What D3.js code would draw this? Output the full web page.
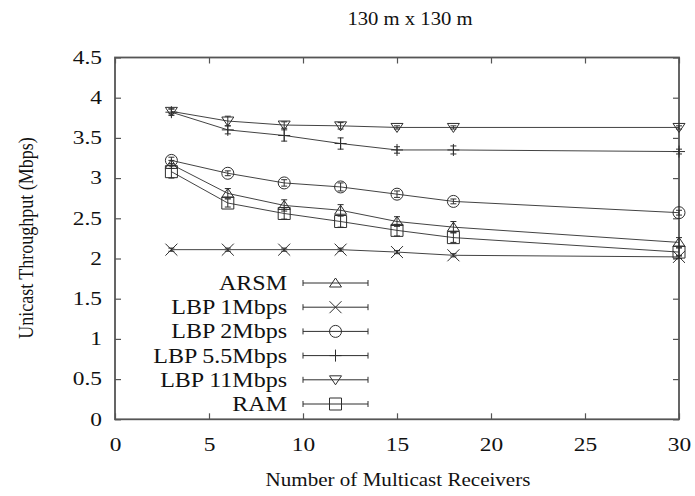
<!DOCTYPE html>
<html>
<head>
<meta charset="utf-8">
<script src="https://cdn.jsdelivr.net/npm/d3@7"></script>
<style>
  body { margin: 0; background: #fff; }
  text { font-family: "Liberation Serif", "Times New Roman", serif; fill: #111; }
</style>
</head>
<body>
<div id="chart"></div>
<script>
// data
var receivers = [3, 6, 9, 12, 15, 18, 30];
var arsm  = [3.17, 2.81, 2.66, 2.60, 2.46, 2.39, 2.20];
var lbp1  = [2.11, 2.11, 2.11, 2.11, 2.08, 2.04, 2.02];
var lbp2  = [3.22, 3.06, 2.94, 2.89, 2.80, 2.71, 2.57];
var lbp55 = [3.82, 3.60, 3.53, 3.43, 3.35, 3.35, 3.33];
var lbp11 = [3.83, 3.71, 3.66, 3.65, 3.63, 3.63, 3.63];
var ram   = [3.08, 2.69, 2.56, 2.46, 2.35, 2.26, 2.08];
// error bar half heights
var arsmErr  = [0.05, 0.06, 0.07, 0.07, 0.06, 0.07, 0.06];
var lbp1Err  = [0.02, 0.02, 0.02, 0.02, 0.02, 0.02, 0.02];
var lbp2Err  = [0.04, 0.03, 0.04, 0.05, 0.04, 0.03, 0.03];
var lbp55Err = [0.04, 0.05, 0.07, 0.07, 0.04, 0.05, 0.03];
var lbp11Err = [0.03, 0.06, 0.04, 0.04, 0.02, 0.02, 0.02];
var ramErr   = [0.08, 0.05, 0.07, 0.07, 0.07, 0.06, 0.05];

var seriesNames = ["ARSM", "LBP 1Mbps", "LBP 2Mbps", "LBP 5.5Mbps", "LBP 11Mbps", "RAM"];
var seriesMarkers = ["triUp", "times", "circle", "plus", "triDown", "square"];

var xTicks = [0, 5, 10, 15, 20, 25, 30];
var yTicks = [0, 0.5, 1, 1.5, 2, 2.5, 3, 3.5, 4, 4.5];
var yTickLabels = ["0", "0.5", "1", "1.5", "2", "2.5", "3", "3.5", "4", "4.5"];

var title = "130 m x 130 m";
var xTitle = "Number of Multicast Receivers";
var yTitle = "Unicast Throughput (Mbps)";

// build series table
var allValues = [arsm, lbp1, lbp2, lbp55, lbp11, ram];
var allErrs = [arsmErr, lbp1Err, lbp2Err, lbp55Err, lbp11Err, ramErr];
var series = seriesNames.map(function(name, i) {
  return {
    name: name,
    marker: seriesMarkers[i],
    points: receivers.map(function(r, j) {
      return { x: r, y: allValues[i][j], e: allErrs[i][j] };
    })
  };
});

var width = 695, height = 496;
var ink = "#2e2e2e";
var axisColor = "#555";

var svg = d3.select("#chart").append("svg")
  .attr("width", width)
  .attr("height", height);

var x = d3.scaleLinear().domain([0, 30]).range([115, 679]);
var y = d3.scaleLinear().domain([0, 4.5]).range([419.3, 57.5]);

// text in the picture is a bit wider than a plain serif font
var stretchTick = 1.3;

// axes (ticks point inwards)
var gBottom = svg.append("g")
  .attr("transform", "translate(0," + y(0) + ")")
  .call(d3.axisBottom(x).tickValues(xTicks).tickSize(-6).tickSizeOuter(0).tickPadding(19));
var gLeft = svg.append("g")
  .attr("transform", "translate(" + x(0) + ",0)")
  .call(d3.axisLeft(y).tickValues(yTicks).tickSize(-6).tickSizeOuter(0).tickPadding(13)
    .tickFormat(function(d, i) { return yTickLabels[i]; }));
var gTop = svg.append("g")
  .attr("transform", "translate(0," + y(4.5) + ")")
  .call(d3.axisTop(x).tickValues(xTicks).tickSize(-6).tickSizeOuter(0).tickFormat(""));
var gRight = svg.append("g")
  .attr("transform", "translate(" + x(30) + ",0)")
  .call(d3.axisRight(y).tickValues(yTicks).tickSize(-6).tickSizeOuter(0).tickFormat(""));

[gBottom, gLeft, gTop, gRight].forEach(function(g) {
  g.select(".domain").remove();
  g.attr("font-size", 18);
  g.selectAll(".tick line").attr("stroke", axisColor).attr("stroke-width", 1.2);
});
gBottom.selectAll("text")
  .attr("transform", "scale(" + stretchTick + ",1)");
gLeft.selectAll("text")
  .attr("x", -13 / stretchTick)
  .attr("transform", "scale(" + stretchTick + ",1)");

// plot border
svg.append("rect")
  .attr("x", x(0))
  .attr("y", y(4.5))
  .attr("width", x(30) - x(0))
  .attr("height", y(0) - y(4.5))
  .attr("fill", "none")
  .attr("stroke", axisColor)
  .attr("stroke-width", 1.8);

// marker shapes
function markerPath(type) {
  var p = d3.path();
  if (type == "triUp") {
    p.moveTo(-6, 4); p.lineTo(6, 4); p.lineTo(0, -5); p.closePath();
  } else if (type == "triDown") {
    p.moveTo(-6, -4); p.lineTo(6, -4); p.lineTo(0, 5); p.closePath();
  } else if (type == "circle") {
    p.moveTo(6, 0); p.arc(0, 0, 6, 0, 2 * Math.PI);
  } else if (type == "square") {
    p.rect(-6, -6, 12, 12);
  } else if (type == "times") {
    p.moveTo(-6, -6); p.lineTo(6, 6); p.moveTo(-6, 6); p.lineTo(6, -6);
  } else if (type == "plus") {
    p.moveTo(-6, 0); p.lineTo(6, 0); p.moveTo(0, -6); p.lineTo(0, 6);
  }
  return p.toString();
}

var line = d3.line()
  .x(function(d) { return x(d.x); })
  .y(function(d) { return y(d.y); });

var gSeries = svg.selectAll(".series")
  .data(series)
  .enter()
  .append("g")
  .attr("class", "series");

gSeries.append("path")
  .attr("d", function(d) { return line(d.points); })
  .attr("fill", "none")
  .attr("stroke", ink)
  .attr("stroke-width", 0.9);

// error bars
gSeries.each(function(s) {
  var g = d3.select(this);
  s.points.forEach(function(pt) {
    var cx = x(pt.x), y1 = y(pt.y - pt.e), y2 = y(pt.y + pt.e);
    g.append("path")
      .attr("d", "M" + cx + "," + y1 + "V" + y2 +
        "M" + (cx - 3) + "," + y1 + "H" + (cx + 3) +
        "M" + (cx - 3) + "," + y2 + "H" + (cx + 3))
      .attr("fill", "none")
      .attr("stroke", ink)
      .attr("stroke-width", 1);
  });
});

gSeries.selectAll(".pt")
  .data(function(d) { return d.points.map(function(p) { return { p: p, m: d.marker }; }); })
  .enter()
  .append("path")
  .attr("class", "pt")
  .attr("transform", function(d) { return "translate(" + x(d.p.x) + "," + y(d.p.y) + ")"; })
  .attr("d", function(d) { return markerPath(d.m); })
  .attr("fill", "none")
  .attr("stroke", ink)
  .attr("stroke-width", 1);

// legend
var legX = 287, legY0 = 283, legStep = 24.2;
var legLine0 = 303, legLine1 = 368;
var leg = svg.append("g").selectAll("g")
  .data(series)
  .enter()
  .append("g")
  .attr("transform", function(d, i) { return "translate(0," + (legY0 + i * legStep) + ")"; });

leg.append("text")
  .attr("transform", "translate(" + legX + ",7) scale(1.2,1)")
  .attr("text-anchor", "end")
  .attr("font-size", 20)
  .text(function(d) { return d.name; });
leg.append("path")
  .attr("d", "M" + legLine0 + ",0H" + legLine1 +
    "M" + legLine0 + ",-3V3M" + legLine1 + ",-3V3")
  .attr("fill", "none")
  .attr("stroke", ink)
  .attr("stroke-width", 1);
leg.append("path")
  .attr("transform", "translate(" + (legLine0 + legLine1) / 2 + ",0)")
  .attr("d", function(d) { return markerPath(d.marker); })
  .attr("fill", "none")
  .attr("stroke", ink)
  .attr("stroke-width", 1);

// titles
svg.append("text")
  .attr("transform", "translate(410,25) scale(1.15,1)")
  .attr("text-anchor", "middle")
  .attr("font-size", 18)
  .text(title);

svg.append("text")
  .attr("transform", "translate(398,486) scale(1.17,1)")
  .attr("text-anchor", "middle")
  .attr("font-size", 18)
  .text(xTitle);

svg.append("text")
  .attr("transform", "translate(33,238) scale(1.17,1) rotate(-90)")
  .attr("text-anchor", "middle")
  .attr("font-size", 18)
  .text(yTitle);
</script>
</body>
</html>
